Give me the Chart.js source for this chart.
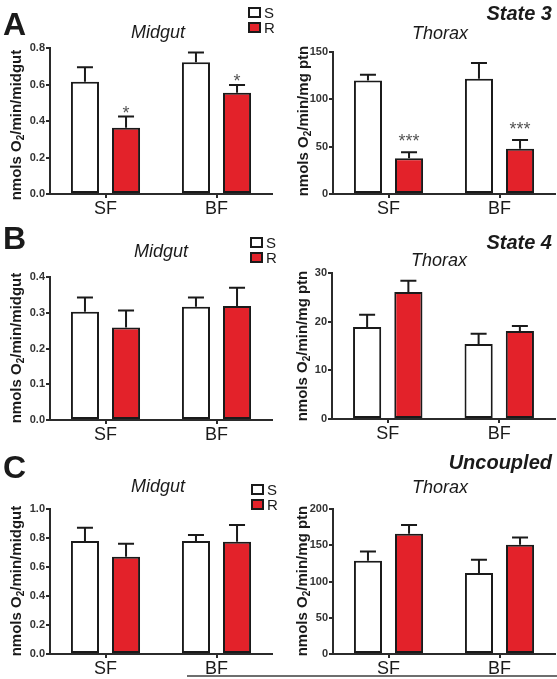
<!DOCTYPE html>
<html><head><meta charset="utf-8">
<script src="https://cdn.jsdelivr.net/npm/chart.js"></script>
<style>
body{margin:0;background:#fff;}
#wrap{position:relative;width:557px;height:679px;overflow:hidden;font-family:"Liberation Sans",Arial,sans-serif;color:#1a1a1a;background:#fff;}
.cv{position:absolute;}
.t{position:absolute;white-space:nowrap;line-height:1;z-index:2;}
.letter{font-weight:bold;font-size:32px;}
.ttl{font-style:italic;font-size:18px;transform:translate(-50%,-50%);}
.state{font-weight:bold;font-style:italic;font-size:20px;transform:translate(-100%,-50%);}
.ylab{font-weight:bold;font-size:15px;transform:translate(-50%,-50%) rotate(-90deg);}
.ylab sub{font-size:10px;vertical-align:-3px;line-height:0;}
.leg{font-size:15px;}
.leg div{height:15px;display:flex;align-items:center;}
.leg span.b{display:inline-block;width:9px;height:7px;border:2px solid #1a1a1a;margin-right:3px;}
#bline{position:absolute;left:187px;top:675px;width:370px;height:2px;background:#6e6e6e;z-index:3;}
</style></head>
<body><div id="wrap">
<canvas id="c1" class="cv"></canvas>
<canvas id="c2" class="cv"></canvas>
<canvas id="c3" class="cv"></canvas>
<canvas id="c4" class="cv"></canvas>
<canvas id="c5" class="cv"></canvas>
<canvas id="c6" class="cv"></canvas>

<div class="t letter" style="left:3px;top:8px;">A</div>
<div class="t letter" style="left:3px;top:222px;">B</div>
<div class="t letter" style="left:3px;top:451px;">C</div>

<div class="t state" style="left:552px;top:13px;">State 3</div>
<div class="t state" style="left:552px;top:242px;">State 4</div>
<div class="t state" style="left:552px;top:462px;">Uncoupled</div>

<div class="t ttl" style="left:158px;top:32px;">Midgut</div>
<div class="t ttl" style="left:440px;top:33px;">Thorax</div>
<div class="t ttl" style="left:161px;top:251px;">Midgut</div>
<div class="t ttl" style="left:439px;top:260px;">Thorax</div>
<div class="t ttl" style="left:158px;top:486px;">Midgut</div>
<div class="t ttl" style="left:440px;top:487px;">Thorax</div>

<div class="t ylab" style="left:15px;top:125px;">nmols O<sub>2</sub>/min/midgut</div>
<div class="t ylab" style="left:302px;top:121px;">nmols O<sub>2</sub>/min/mg ptn</div>
<div class="t ylab" style="left:15px;top:348px;">nmols O<sub>2</sub>/min/midgut</div>
<div class="t ylab" style="left:301px;top:346px;">nmols O<sub>2</sub>/min/mg ptn</div>
<div class="t ylab" style="left:15px;top:581px;">nmols O<sub>2</sub>/min/midgut</div>
<div class="t ylab" style="left:301px;top:581px;">nmols O<sub>2</sub>/min/mg ptn</div>

<div class="t leg" style="left:248px;top:5px;"><div><span class="b" style="background:#fff"></span>S</div><div><span class="b" style="background:#e3222a"></span>R</div></div>
<div class="t leg" style="left:250px;top:235px;"><div><span class="b" style="background:#fff"></span>S</div><div><span class="b" style="background:#e3222a"></span>R</div></div>
<div class="t leg" style="left:251px;top:482px;"><div><span class="b" style="background:#fff"></span>S</div><div><span class="b" style="background:#e3222a"></span>R</div></div>
<div id="bline"></div>
</div>
<script>
// ---------- data ----------
const categories = ['SF', 'BF'];
const seriesNames = ['S', 'R'];

// A: State 3
const aMidS = [0.615, 0.722];   const aMidSErr = [0.079, 0.054];
const aMidR = [0.363, 0.555];   const aMidRErr = [0.061, 0.042];
const aMidStars = ['*', '*'];
const aMidTicks = [0, 0.2, 0.4, 0.6, 0.8];
const aMidTickLabels = ['0.0', '0.2', '0.4', '0.6', '0.8'];

const aThoS = [120, 121.8];     const aThoSErr = [6, 16.6];
const aThoR = [37.8, 47.7];     const aThoRErr = [6.2, 9.3];
const aThoStars = ['***', '***'];
const aThoTicks = [0, 50, 100, 150];
const aThoTickLabels = ['0', '50', '100', '150'];

// B: State 4
const bMidS = [0.303, 0.317];   const bMidSErr = [0.040, 0.026];
const bMidR = [0.259, 0.319];   const bMidRErr = [0.047, 0.051];
const bMidTicks = [0, 0.1, 0.2, 0.3, 0.4];
const bMidTickLabels = ['0.0', '0.1', '0.2', '0.3', '0.4'];

const bThoS = [18.9, 15.4];     const bThoSErr = [2.5, 2.1];
const bThoR = [26.1, 18.1];     const bThoRErr = [2.3, 1.0];
const bThoTicks = [0, 10, 20, 30];
const bThoTickLabels = ['0', '10', '20', '30'];

// C: Uncoupled
const cMidS = [0.78, 0.78];     const cMidSErr = [0.09, 0.04];
const cMidR = [0.67, 0.775];    const cMidRErr = [0.09, 0.115];
const cMidTicks = [0, 0.2, 0.4, 0.6, 0.8, 1.0];
const cMidTickLabels = ['0.0', '0.2', '0.4', '0.6', '0.8', '1.0'];

const cThoS = [128.7, 111.7];   const cThoSErr = [12.8, 18.3];
const cThoR = [166, 150.7];     const cThoRErr = [12, 10.1];
const cThoTicks = [0, 50, 100, 150, 200];
const cThoTickLabels = ['0', '50', '100', '150', '200'];

// ---------- drawing ----------
const FONT = '"Liberation Sans", Arial, sans-serif';
const RED = '#e3222a';
const INK = '#1a1a1a';
const AXIS = '#2b2b2b';

const errPlugin = {
  id: 'errbars',
  afterDatasetsDraw(chart, args, opts) {
    const ctx = chart.ctx, ys = chart.scales.y;
    chart.data.datasets.forEach((ds, di) => {
      const meta = chart.getDatasetMeta(di);
      meta.data.forEach((bar, i) => {
        const top = ys.getPixelForValue(ds.data[i] + ds.err[i]);
        ctx.save();
        ctx.strokeStyle = INK; ctx.lineWidth = 2;
        ctx.beginPath();
        ctx.moveTo(bar.x, bar.y); ctx.lineTo(bar.x, top);
        ctx.moveTo(bar.x - 8, top); ctx.lineTo(bar.x + 8, top);
        ctx.stroke();
        if (ds.stars && ds.stars[i]) {
          ctx.fillStyle = '#555';
          ctx.font = '18px ' + FONT;
          ctx.textAlign = 'center'; ctx.textBaseline = 'alphabetic';
          ctx.fillText(ds.stars[i], bar.x, top + opts.starDy);
        }
        ctx.restore();
      });
    });
  }
};

function makePanel(id, box, area, S, SErr, R, RErr, stars, ticks, tickLabels, starDy) {
  const cv = document.getElementById(id);
  cv.style.left = box.left + 'px'; cv.style.top = box.top + 'px';
  cv.style.width = box.w + 'px'; cv.style.height = box.h + 'px';
  cv.width = box.w; cv.height = box.h;
  const xAxisH = 24;
  const yAxisW = area.l - box.left;
  const padTop = area.t - box.top;
  const padRight = box.left + box.w - area.r;
  const padBottom = box.top + box.h - area.b - xAxisH;
  new Chart(cv, {
    type: 'bar',
    data: {
      labels: categories,
      datasets: [
        { label: seriesNames[0], data: S, err: SErr, backgroundColor: '#ffffff', borderColor: INK, borderWidth: 2, borderSkipped: false },
        { label: seriesNames[1], data: R, err: RErr, stars: stars, backgroundColor: RED, borderColor: INK, borderWidth: 2, borderSkipped: false }
      ]
    },
    options: {
      responsive: false, animation: false, devicePixelRatio: 1,
      layout: { padding: { top: padTop, right: padRight, bottom: padBottom, left: 0 } },
      categoryPercentage: 0.74, barPercentage: 0.683,
      plugins: { legend: { display: false }, tooltip: { enabled: false }, title: { display: false }, errbars: { starDy: starDy } },
      scales: {
        x: {
          offset: true,
          grid: { display: true, offset: false, drawOnChartArea: false, drawTicks: true, tickLength: 4, color: AXIS, lineWidth: 2 },
          border: { display: true, color: AXIS, width: 2 },
          ticks: { font: { family: FONT, size: 18 }, color: INK, padding: 0 },
          afterFit: s => { s.height = xAxisH; }
        },
        y: {
          min: ticks[0], max: ticks[ticks.length - 1],
          grid: { display: true, drawOnChartArea: false, drawTicks: true, tickLength: 4, color: AXIS, lineWidth: 2 },
          border: { display: true, color: AXIS, width: 2 },
          afterBuildTicks: s => { s.ticks = ticks.map(v => ({ value: v })); },
          ticks: { font: { family: FONT, size: 11, weight: 'bold' }, color: '#333', padding: 1,
                   callback: (v, i) => tickLabels[i] },
          afterFit: s => { s.width = yAxisW; }
        }
      }
    },
    plugins: [errPlugin]
  });
}

makePanel('c1', {left:0, top:0, w:280, h:230},   {l:50, t:48, r:272, b:194},  aMidS, aMidSErr, aMidR, aMidRErr, aMidStars, aMidTicks, aMidTickLabels, 2);
makePanel('c2', {left:280, top:0, w:277, h:230}, {l:333, t:52, r:555, b:194}, aThoS, aThoSErr, aThoR, aThoRErr, aThoStars, aThoTicks, aThoTickLabels, -5);
makePanel('c3', {left:0, top:230, w:280, h:225},   {l:50, t:277, r:272, b:420},  bMidS, bMidSErr, bMidR, bMidRErr, null, bMidTicks, bMidTickLabels, 0);
makePanel('c4', {left:280, top:230, w:277, h:225}, {l:332, t:273, r:555, b:419}, bThoS, bThoSErr, bThoR, bThoRErr, null, bThoTicks, bThoTickLabels, 0);
makePanel('c5', {left:0, top:455, w:280, h:224},   {l:50, t:509, r:272, b:654},  cMidS, cMidSErr, cMidR, cMidRErr, null, cMidTicks, cMidTickLabels, 0);
makePanel('c6', {left:280, top:455, w:277, h:224}, {l:333, t:509, r:555, b:654}, cThoS, cThoSErr, cThoR, cThoRErr, null, cThoTicks, cThoTickLabels, 0);
</script>
</body></html>
